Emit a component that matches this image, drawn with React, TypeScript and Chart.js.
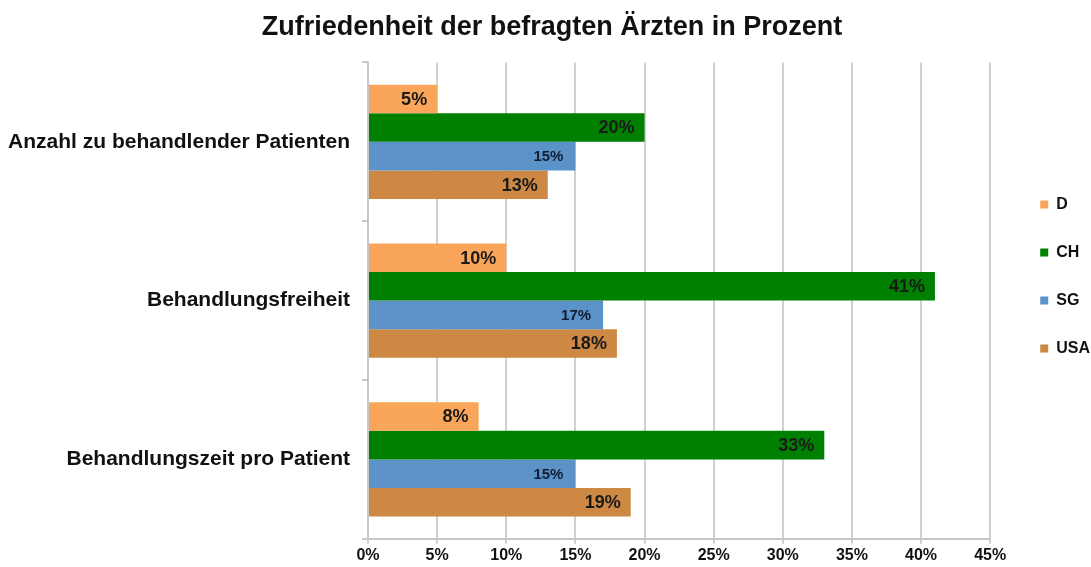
import React, { useEffect, useRef } from "react";
import { Chart, registerables } from "chart.js";

Chart.register(...registerables);

const categories = [
  "Anzahl zu behandlender Patienten",
  "Behandlungsfreiheit",
  "Behandlungszeit pro Patient",
];
const seriesNames = ["D", "CH", "SG", "USA"];
const valuesD = [5, 10, 8];
const valuesCH = [20, 41, 33];
const valuesSG = [15, 17, 15];
const valuesUSA = [13, 18, 19];
const seriesColors = ["#F9A65A", "#008000", "#5B93C8", "#CD8843"];
const xTicks = [0, 5, 10, 15, 20, 25, 30, 35, 40, 45];

const FONT = "'Liberation Sans', Arial, sans-serif";

const valueLabelPlugin = {
  id: "valueLabels",
  afterDatasetsDraw(chart: any) {
    const ctx = chart.ctx;
    chart.data.datasets.forEach((ds: any, di: number) => {
      const meta = chart.getDatasetMeta(di);
      if (meta.hidden) return;
      meta.data.forEach((el: any, i: number) => {
        const v = ds.data[i];
        ctx.save();
        const isSG = di === 2;
        ctx.font = `bold ${isSG ? 15 : 18}px ${FONT}`;
        ctx.fillStyle = isSG ? "#0f1e33" : "#1a1a1a";
        ctx.textAlign = "right";
        ctx.textBaseline = "middle";
        ctx.fillText(v + "%", el.x - (isSG ? 12 : 10), el.y + 1);
        ctx.restore();
      });
    });
  },
};

const LEGEND_GAP = 18;
const LEGEND_LIFT = 7;
const legendShiftPlugin = {
  id: "legendShift",
  afterInit(chart: any) {
    const lg = chart.legend;
    if (!lg) return;
    const orig = lg.fit.bind(lg);
    lg.fit = function () {
      orig();
      this.width += LEGEND_GAP;
    };
  },
  afterLayout(chart: any) {
    const lg = chart.legend;
    if (!lg) return;
    lg.left += LEGEND_GAP;
    lg.top -= LEGEND_LIFT;
    lg.bottom -= LEGEND_LIFT;
  },
};

export default function App() {
  const ref = useRef<HTMLCanvasElement | null>(null);
  useEffect(() => {
    document.body.style.margin = "0";
    const dataArrays = [valuesD, valuesCH, valuesSG, valuesUSA];
    const chart = new Chart(ref.current as HTMLCanvasElement, {
      type: "bar",
      data: {
        labels: categories,
        datasets: seriesNames.map((n, i) => ({
          label: n,
          data: dataArrays[i],
          backgroundColor: seriesColors[i],
          borderWidth: 0,
          categoryPercentage: 0.72,
          barPercentage: 1,
        })),
      },
      options: {
        indexAxis: "y",
        animation: false,
        responsive: false,
        layout: { padding: { top: 0, right: -9, bottom: 0, left: 4 } },
        plugins: {
          title: {
            display: true,
            text: "Zufriedenheit der befragten Ärzten in Prozent",
            font: { family: FONT, size: 27, weight: "bold" },
            color: "#111",
            padding: { top: 11, bottom: 19 },
          },
          legend: {
            position: "right",
            align: "center",
            labels: {
              boxWidth: 8,
              boxHeight: 8,
              padding: 32,
              color: "#111",
              font: { family: FONT, size: 16, weight: "bold" },
            },
          },
          tooltip: { enabled: false },
        },
        scales: {
          x: {
            type: "linear",
            min: 0,
            max: 45,
            afterBuildTicks(scale: any) {
              scale.ticks = xTicks.map((v) => ({ value: v }));
            },
            ticks: {
              callback: (v: any) => v + "%",
              color: "#111",
              font: { family: FONT, size: 16, weight: "bold" },
              padding: 2,
            },
            grid: {
              color: "#d0d0d0",
              lineWidth: 2,
              tickLength: 5,
            },
            border: { color: "#c8c8c8", width: 2 },
          },
          y: {
            type: "category",
            offset: true,
            afterFit(scale: any) {
              scale.width = 364;
            },
            ticks: {
              color: "#111",
              font: { family: FONT, size: 21, weight: "bold" },
              padding: 12,
            },
            grid: {
              offset: true,
              drawOnChartArea: false,
              tickLength: 6,
              color: "#c8c8c8",
              lineWidth: 2,
            },
            border: { color: "#c8c8c8", width: 2 },
          },
        },
      },
      plugins: [valueLabelPlugin, legendShiftPlugin],
    } as any);
    return () => chart.destroy();
  }, []);
  return (
    <div style={{ width: 1091, height: 567, background: "#fff" }}>
      <canvas ref={ref} width={1091} height={567} />
    </div>
  );
}
